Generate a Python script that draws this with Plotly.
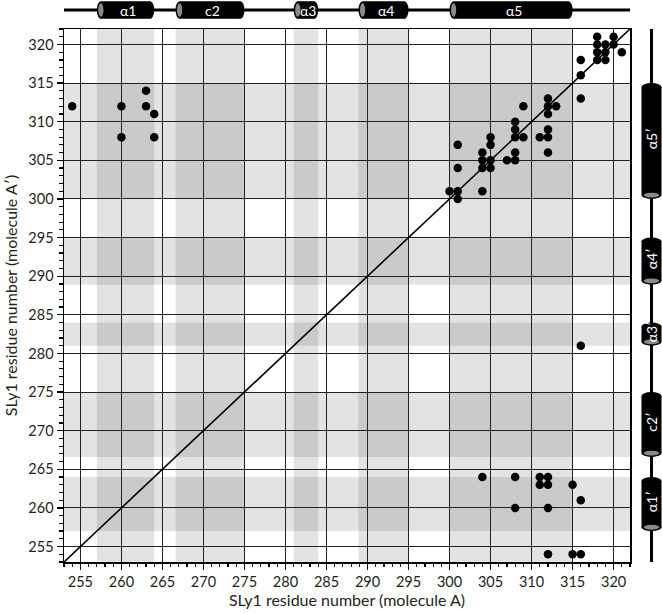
import plotly.graph_objects as go

# ---- data ----
x_molA = [254, 260, 260, 263, 263, 264, 264,
          318, 320, 318, 319, 320, 318, 319, 321, 316, 318, 319, 316, 316,
          309, 312, 312, 313, 312, 312, 312, 311, 312, 308, 308, 308, 309, 308, 308, 307,
          305, 305, 304, 304, 305, 304, 305, 301, 301, 304, 300, 301, 301,
          316,
          304, 308, 311, 312, 311, 312, 315, 316, 308, 312, 312, 315, 316]
y_molA2 = [312, 312, 308, 314, 312, 311, 308,
           321, 321, 320, 320, 320, 319, 319, 319, 318, 318, 318, 316, 313,
           312, 313, 312, 312, 311, 309, 308, 308, 306, 310, 309, 308, 308, 306, 305, 305,
           308, 307, 306, 305, 305, 304, 304, 307, 304, 301, 301, 301, 300,
           281,
           264, 264, 264, 264, 263, 263, 263, 261, 260, 260, 254, 254, 254]

helix_labels_A = ["α1", "c2", "α3", "α4", "α5"]
helix_labels_B = ["α1′", "c2′", "α3′", "α4′", "α5′"]
helix_start = [257, 266.6, 281, 288.9, 300]
helix_end = [264, 275, 284, 295, 315]

axis_range = [253, 322]
tick_start, tick_step = 255, 5

FONT = "Lato"
TXT = "#231f20"

fig = go.Figure()
fig.add_trace(go.Scatter(x=x_molA, y=y_molA2, mode="markers",
                         marker=dict(color="black", size=8.5),
                         showlegend=False, hoverinfo="skip"))

shapes = []
annotations = []
band = "rgba(0,0,0,0.11)"
for s, e in zip(helix_start, helix_end):
    shapes.append(dict(type="rect", xref="x", yref="paper", x0=s, x1=e, y0=0, y1=1,
                       fillcolor=band, line=dict(width=0), layer="below"))
    shapes.append(dict(type="rect", xref="paper", yref="y", x0=0, x1=1, y0=s, y1=e,
                       fillcolor=band, line=dict(width=0), layer="below"))

# diagonal y = x
shapes.append(dict(type="line", xref="x", yref="y", x0=axis_range[0], y0=axis_range[0],
                   x1=axis_range[1], y1=axis_range[1], line=dict(color="black", width=1.6),
                   layer="between"))

# top secondary-structure track (molecule A)
yc, hh = 1.0356, 0.0165
shapes.append(dict(type="line", xref="x", yref="paper", x0=axis_range[0], x1=axis_range[1],
                   y0=yc, y1=yc, line=dict(color="black", width=3)))
cap = 1.0
for s, e, lab in zip(helix_start, helix_end, helix_labels_A):
    shapes.append(dict(type="rect", xref="x", yref="paper", x0=s + cap / 2, x1=e - cap / 2,
                       y0=yc - hh, y1=yc + hh, fillcolor="black", line=dict(width=0)))
    shapes.append(dict(type="circle", xref="x", yref="paper", x0=e - cap, x1=e,
                       y0=yc - hh, y1=yc + hh, fillcolor="black", line=dict(width=0)))
    shapes.append(dict(type="circle", xref="x", yref="paper", x0=s, x1=s + cap,
                       y0=yc - hh, y1=yc + hh, fillcolor="black", line=dict(width=0)))
    shapes.append(dict(type="circle", xref="x", yref="paper", x0=s + 0.12, x1=s + 0.88,
                       y0=yc - hh * 0.82, y1=yc + hh * 0.82, fillcolor="#8a8a8a",
                       line=dict(color="black", width=1)))
    annotations.append(dict(x=(s + e) / 2 + 0.3, y=yc, xref="x", yref="paper", text=lab,
                            showarrow=False, font=dict(family=FONT, size=14, color="white"),
                            yanchor="middle"))

# right secondary-structure track (molecule A')
xc, hw = 1.038, 0.0177
shapes.append(dict(type="line", xref="paper", yref="y", x0=xc, x1=xc,
                   y0=axis_range[0], y1=axis_range[1], line=dict(color="black", width=3)))
for s, e, lab in zip(helix_start, helix_end, helix_labels_B):
    shapes.append(dict(type="rect", xref="paper", yref="y", x0=xc - hw, x1=xc + hw,
                       y0=s + cap / 2, y1=e - cap / 2, fillcolor="black", line=dict(width=0)))
    shapes.append(dict(type="circle", xref="paper", yref="y", x0=xc - hw, x1=xc + hw,
                       y0=e - cap, y1=e, fillcolor="black", line=dict(width=0)))
    shapes.append(dict(type="circle", xref="paper", yref="y", x0=xc - hw, x1=xc + hw,
                       y0=s, y1=s + cap, fillcolor="black", line=dict(width=0)))
    shapes.append(dict(type="circle", xref="paper", yref="y", x0=xc - hw * 0.82, x1=xc + hw * 0.82,
                       y0=s + 0.12, y1=s + 0.88, fillcolor="#8a8a8a",
                       line=dict(color="black", width=1)))
    annotations.append(dict(x=xc, y=(s + e) / 2 + 0.3, xref="paper", yref="y", text=lab,
                            showarrow=False, textangle=-90,
                            font=dict(family=FONT, size=14, color="white"),
                            xanchor="center", yanchor="middle"))

axis_common = dict(
    range=axis_range, tick0=tick_start, dtick=tick_step,
    showgrid=True, gridcolor="#222222", gridwidth=1,
    showline=True, linecolor="black", linewidth=1.5, mirror=True,
    ticks="outside", ticklen=6, tickwidth=1.3, tickcolor="black",
    minor=dict(dtick=1, tick0=tick_start, ticks="outside", ticklen=3.5, tickwidth=1.2,
               tickcolor="black", showgrid=False),
    tickfont=dict(family=FONT, size=14.5, color=TXT),
    zeroline=False, fixedrange=True,
)

fig.update_layout(
    width=662, height=613,
    margin=dict(l=64, r=32, t=29, b=51, autoexpand=False),
    paper_bgcolor="white", plot_bgcolor="white",
    xaxis=dict(axis_common, title=dict(text="SLy1 residue number (molecule A)",
                                       font=dict(family=FONT, size=16, color=TXT), standoff=5)),
    yaxis=dict(axis_common, title=dict(text="SLy1 residue number (molecule A′)",
                                       font=dict(family=FONT, size=16, color=TXT), standoff=7)),
    shapes=shapes, annotations=annotations,
    showlegend=False,
)

fig.write_html("out.html", config={"displayModeBar": False, "staticPlot": True},
               post_script="document.body.style.margin='0';document.body.style.overflow='hidden';")
